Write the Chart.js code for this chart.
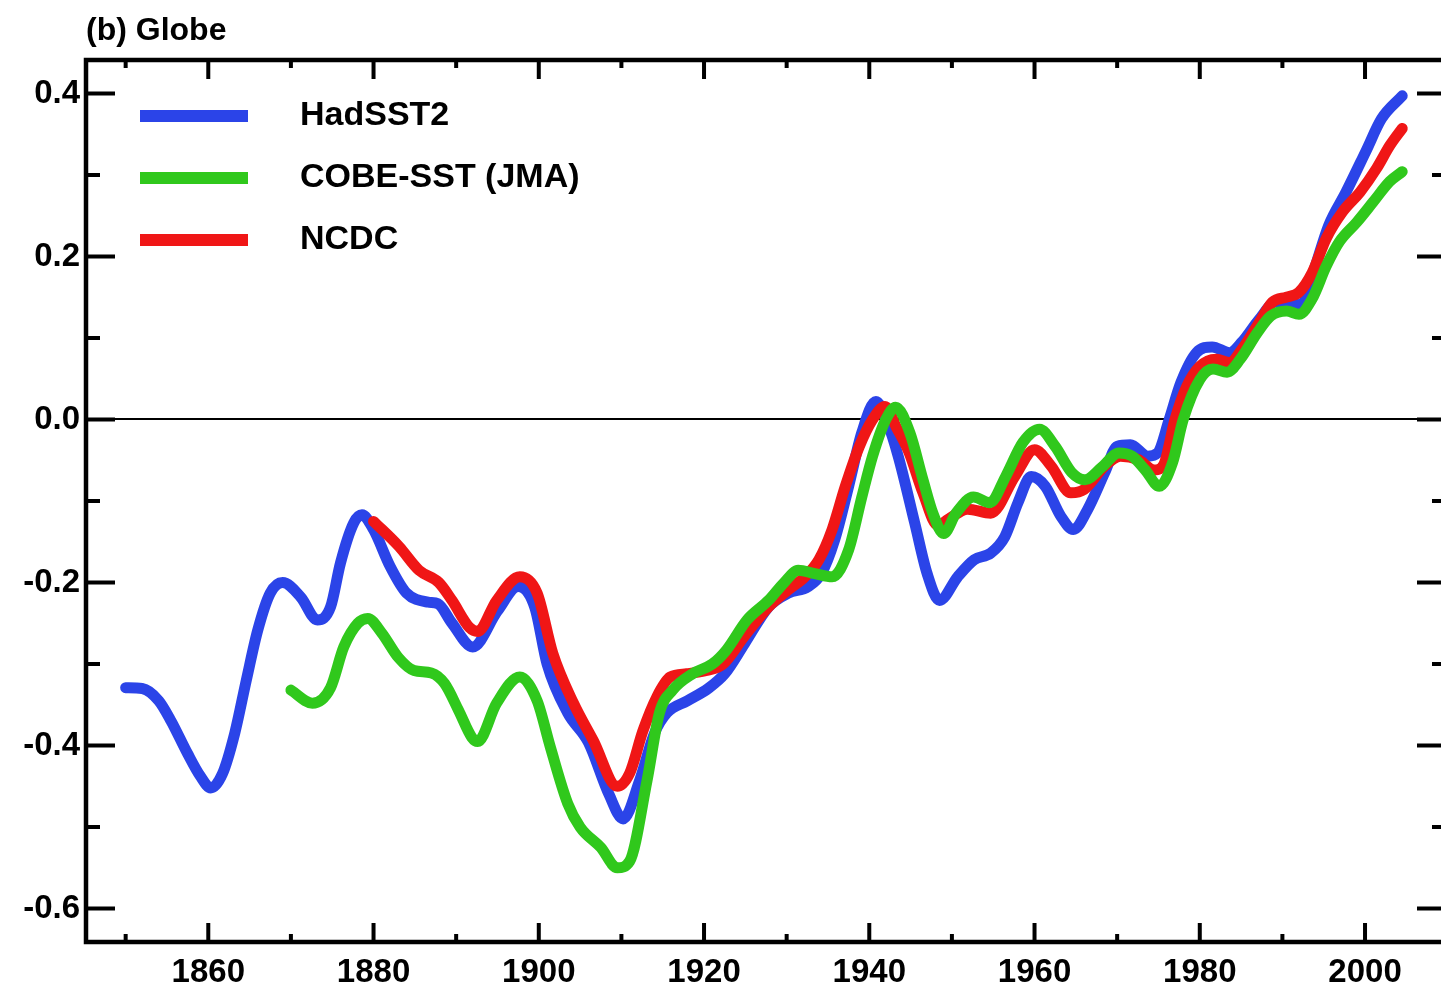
<!DOCTYPE html>
<html>
<head>
<meta charset="utf-8">
<title>(b) Globe</title>
<script src="https://cdn.jsdelivr.net/npm/chart.js@4/dist/chart.umd.min.js"></script>
<style>
  html, body { margin: 0; padding: 0; background: #fff; overflow: hidden; }
  #wrap { width: 1460px; height: 992px; }
</style>
</head>
<body>
<div id="wrap"><canvas id="c" width="1460" height="992"></canvas></div>
<script>
// Smoothed global SST anomalies (°C) for three analyses.
const hadYears = [1850, 1852, 1854, 1855.5, 1857.5, 1859, 1860.3, 1861.7, 1863.2, 1864.6, 1866, 1867.5, 1869,
  1871.2, 1873.2, 1874.8, 1876, 1877.6, 1878.6, 1880, 1882, 1884, 1886.6, 1887.8, 1889.5, 1892, 1895, 1897.5,
  1899.5, 1901, 1903.5, 1906, 1908.5, 1910.2, 1912.2, 1914, 1915.5, 1918, 1920.5, 1922.5, 1924.9, 1927.8, 1930.2,
  1932.6, 1934.2, 1935.8, 1937.5, 1939.1, 1940.8, 1942.2, 1943.5, 1945.5, 1947, 1948.5, 1950.7, 1952.7, 1954.7,
  1956.4, 1958, 1959.6, 1961.3, 1963.2, 1964.7, 1966.4, 1968.5, 1970, 1971.6, 1973.7, 1974.9, 1976.3, 1977.7,
  1979.6, 1981.5, 1983.6, 1985.1, 1987.2, 1989.2, 1991.2, 1992.2, 1993.6, 1995.6, 1997.7, 2000.1, 2002, 2004.5];
const hadSST2 = [-0.329, -0.330, -0.345, -0.370, -0.410, -0.437, -0.452, -0.435, -0.385, -0.320, -0.258, -0.213, -0.200,
  -0.218, -0.246, -0.230, -0.176, -0.127, -0.117, -0.135, -0.180, -0.213, -0.224, -0.226, -0.250, -0.279, -0.235, -0.205,
  -0.230, -0.300, -0.360, -0.396, -0.460, -0.490, -0.443, -0.385, -0.360, -0.345, -0.330, -0.312, -0.275, -0.230, -0.213,
  -0.205, -0.189, -0.148, -0.082, -0.016, 0.022, -0.004, -0.045, -0.127, -0.189, -0.222, -0.193, -0.172, -0.164,
  -0.144, -0.102, -0.070, -0.082, -0.119, -0.135, -0.111, -0.065, -0.033, -0.031, -0.045, -0.041, 0.000, 0.045,
  0.082, 0.089, 0.082, 0.095, 0.123, 0.144, 0.144, 0.139, 0.176, 0.238, 0.279, 0.329, 0.369, 0.397];

const cobeYears = [1870, 1872.6, 1874.8, 1876.4, 1878.1, 1879.3, 1881, 1883, 1884.9, 1887, 1888.6, 1890.3, 1891.9,
  1892.6, 1894.9, 1897.7, 1899.8, 1901.4, 1903.5, 1905, 1907.5, 1909.5, 1911, 1913.1, 1914.6, 1916.2, 1918.6, 1921,
  1922.7, 1925.2, 1927.8, 1929.7, 1931.4, 1933.4, 1935.5, 1937.5, 1939.1, 1940.4, 1942, 1943.2, 1944.9, 1946.5,
  1947.7, 1949, 1950.5, 1952.6, 1954.6, 1956.5, 1958.6, 1960.6, 1962.5, 1964.5, 1966.1, 1968.2, 1970.2, 1971.8,
  1973.4, 1975.1, 1976.7, 1978, 1980, 1981.6, 1983.3, 1984.9, 1987, 1988.6, 1990.5, 1992, 1993.6, 1995.3, 1996.9,
  1999, 2001, 2003, 2004.5];
const cobeSST = [-0.332, -0.348, -0.329, -0.279, -0.250, -0.244, -0.262, -0.292, -0.308, -0.311, -0.324, -0.357, -0.390,
  -0.395, -0.348, -0.316, -0.345, -0.402, -0.471, -0.500, -0.525, -0.550, -0.542, -0.443, -0.360, -0.332, -0.312, -0.300,
  -0.283, -0.246, -0.222, -0.200, -0.185, -0.189, -0.193, -0.160, -0.095, -0.045, 0.000, 0.015, -0.016, -0.074,
  -0.115, -0.140, -0.115, -0.095, -0.102, -0.070, -0.028, -0.012, -0.033, -0.065, -0.074, -0.058, -0.041, -0.045,
  -0.062, -0.082, -0.053, 0.000, 0.049, 0.062, 0.058, 0.074, 0.107, 0.127, 0.133, 0.129, 0.148, 0.188, 0.218,
  0.242, 0.267, 0.292, 0.304];

const ncdcYears = [1880, 1883.1, 1885.5, 1887.9, 1889.5, 1891.6, 1892.6, 1894.9, 1897.7, 1899.8, 1901.7, 1904.2,
  1906.6, 1909.5, 1911, 1912.6, 1914.3, 1915.9, 1917.9, 1920.3, 1922.3, 1924.8, 1927.8, 1930.2, 1932.2, 1933.9,
  1935.5, 1937.1, 1938.8, 1940.4, 1941.9, 1943.3, 1944.8, 1946.5, 1948.3, 1949.6, 1951.9, 1954.7, 1957.6, 1960,
  1962, 1964.4, 1966, 1968.5, 1970.4, 1972.5, 1974.5, 1975.6, 1977, 1978.4, 1980, 1982, 1983.6, 1985.1, 1987.2,
  1988.8, 1990.5, 1992, 1993.6, 1995.3, 1997.3, 1999.4, 2001.4, 2003, 2004.5];
const ncdc = [-0.125, -0.156, -0.185, -0.200, -0.222, -0.255, -0.260, -0.222, -0.193, -0.213, -0.287, -0.348,
  -0.394, -0.450, -0.434, -0.382, -0.340, -0.316, -0.312, -0.308, -0.300, -0.267, -0.230, -0.209, -0.193, -0.172,
  -0.135, -0.082, -0.033, 0.000, 0.016, -0.010, -0.040, -0.090, -0.130, -0.122, -0.110, -0.115, -0.070, -0.037,
  -0.057, -0.090, -0.086, -0.057, -0.045, -0.049, -0.062, -0.056, 0.000, 0.040, 0.065, 0.074, 0.070, 0.086, 0.119,
  0.144, 0.150, 0.156, 0.180, 0.222, 0.255, 0.279, 0.308, 0.336, 0.357];

const seriesNames = ['HadSST2', 'COBE-SST (JMA)', 'NCDC'];
const seriesColors = ['#2b44e8', '#30c81c', '#f01616'];

const FONT = "'Liberation Sans', Arial, Helvetica, sans-serif";

// Legend sample: a short thick bar on the left of a wider transparent swatch.
function legendSwatch(color) {
  const cv = document.createElement('canvas');
  cv.width = 169; cv.height = 14;
  const g = cv.getContext('2d');
  g.fillStyle = color;
  g.fillRect(26, 1, 108, 12);
  return cv;
}

function toPoints(xs, ys) {
  return xs.map((x, i) => ({ x: x, y: ys[i] }));
}

// Frame on all four sides with inward major/minor ticks.
const frameTicks = {
  id: 'frameTicks',
  afterDatasetsDraw(chart) {
    const { ctx, chartArea: a, scales } = chart;
    const xs = scales.x, ys = scales.y;
    ctx.save();
    ctx.strokeStyle = '#000';
    ctx.lineWidth = 4;
    ctx.beginPath();
    xs.ticks.forEach(t => {
      const px = xs.getPixelForValue(t.value);
      const len = Math.round(t.value) % 20 === 0 ? 19 : 8;
      ctx.moveTo(px, a.bottom); ctx.lineTo(px, a.bottom - len);
      ctx.moveTo(px, a.top); ctx.lineTo(px, a.top + len);
    });
    ys.ticks.forEach(t => {
      const py = ys.getPixelForValue(t.value);
      const len = Math.round(t.value * 10) % 2 === 0 ? 29 : 14;
      ctx.moveTo(a.left, py); ctx.lineTo(a.left + len, py);
      ctx.moveTo(a.right, py); ctx.lineTo(a.right - len, py);
    });
    ctx.stroke();
    ctx.lineWidth = 4.5;
    ctx.strokeRect(a.left, a.top, a.right - a.left, a.bottom - a.top);
    ctx.restore();
  }
};

const datasets = [
  { data: toPoints(hadYears, hadSST2), order: 3 },
  { data: toPoints(cobeYears, cobeSST), order: 1 },
  { data: toPoints(ncdcYears, ncdc), order: 2 }
].map((d, i) => Object.assign(d, {
  label: seriesNames[i],
  borderColor: seriesColors[i],
  backgroundColor: seriesColors[i],
  borderWidth: 11,
  borderCapStyle: 'round',
  borderJoinStyle: 'round',
  pointRadius: 0,
  pointStyle: legendSwatch(seriesColors[i]),
  cubicInterpolationMode: 'monotone',
  fill: false
}));

new Chart(document.getElementById('c'), {
  type: 'line',
  data: { datasets: datasets },
  options: {
    responsive: false,
    devicePixelRatio: 1,
    animation: false,
    events: [],
    layout: { padding: { top: 12, right: 14, bottom: 0, left: 0 } },
    plugins: {
      title: {
        display: true,
        text: '(b) Globe',
        align: 'start',
        fullSize: false,
        color: '#000',
        font: { family: FONT, size: 32, weight: 'bold', lineHeight: 1.2 },
        padding: { top: 0, bottom: 9.6 }
      },
      legend: {
        position: 'chartArea',
        align: 'start',
        // empty heading block that pushes the entries down below the frame top
        title: { display: true, text: '', padding: 0, font: { size: 71, lineHeight: 1 } },
        labels: {
          usePointStyle: true,
          pointStyleWidth: 169,
          boxHeight: 34,
          padding: 28,
          color: '#000',
          font: { family: FONT, size: 34, weight: 'bold' },
          sort: (a, b) => a.datasetIndex - b.datasetIndex
        }
      },
      tooltip: { enabled: false }
    },
    scales: {
      x: {
        type: 'linear',
        min: 1845.2,
        max: 2009.8,
        afterFit: s => { s.height = 50; },
        grid: { display: false, drawTicks: false },
        border: { display: false },
        ticks: {
          stepSize: 10,
          includeBounds: false,
          autoSkip: false,
          maxRotation: 0,
          padding: 11,
          color: '#000',
          font: { family: FONT, size: 33, weight: 'bold' },
          callback: v => (Math.round(v) % 20 === 0 ? String(Math.round(v)) : '')
        }
      },
      y: {
        type: 'linear',
        min: -0.641,
        max: 0.441,
        afterFit: s => { s.width = 86; },
        border: { display: false },
        grid: {
          drawTicks: false,
          lineWidth: 2,
          color: c => (c.tick && Math.abs(c.tick.value) < 1e-9 ? '#000' : 'rgba(0,0,0,0)')
        },
        ticks: {
          stepSize: 0.1,
          includeBounds: false,
          padding: 6,
          color: '#000',
          font: { family: FONT, size: 33, weight: 'bold' },
          callback: v => {
            const k = Math.round(v * 10);
            if (k % 2 !== 0) return '';
            return k === 0 ? '0.0' : (k / 10).toFixed(1);
          }
        }
      }
    }
  },
  plugins: [frameTicks]
});
</script>
</body>
</html>
